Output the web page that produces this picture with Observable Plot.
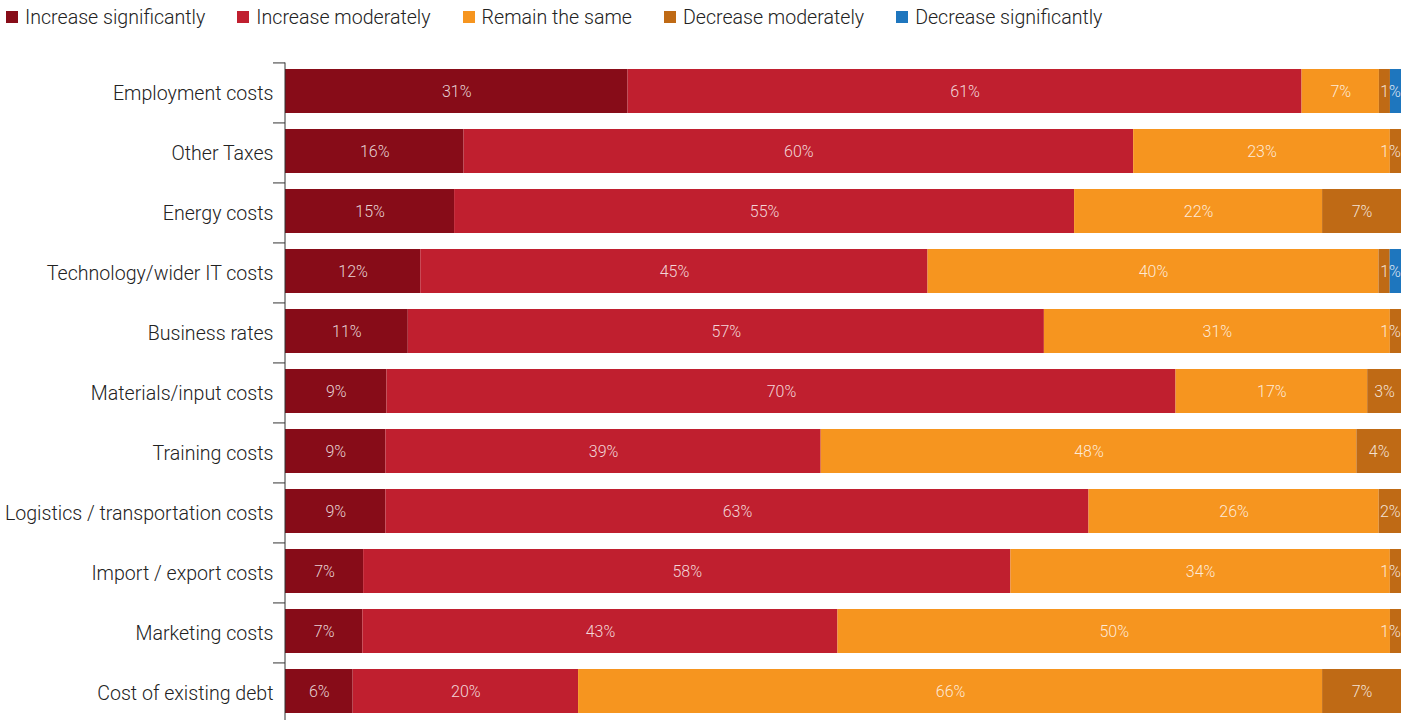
<!DOCTYPE html>
<html><head><meta charset="utf-8">
<script src="https://cdn.jsdelivr.net/npm/d3@7"></script>
<script src="https://cdn.jsdelivr.net/npm/@observablehq/plot@0.6"></script>
<style>
body{margin:0;background:#fff;font-family:Roboto,sans-serif;}
#legend{display:flex;height:34px;align-items:center;padding-left:6px;font-size:19.6px;font-weight:300;color:#222;white-space:nowrap;}
.item{display:flex;align-items:center;margin-right:32px}
.sw{width:12px;height:12px;margin-right:7px}
#chart svg{display:block}
</style></head><body>
<div id="legend"></div><div id="chart"></div>
<script>
const categories = ["Employment costs","Other Taxes","Energy costs","Technology/wider IT costs","Business rates","Materials/input costs","Training costs","Logistics / transportation costs","Import / export costs","Marketing costs","Cost of existing debt"];
const seriesNames = ["Increase significantly","Increase moderately","Remain the same","Decrease moderately","Decrease significantly"];
const colors = ["#870C18","#C01F2F","#F6951F","#BF6A15","#1E76BE"];
const incSig = [31,16,15,12,11,9,9,9,7,7,6];
const incMod = [61,60,55,45,57,70,39,63,58,43,20];
const same   = [7,23,22,40,31,17,48,26,34,50,66];
const decMod = [1,1,7,1,1,3,4,2,1,1,7];
const decSig = [1,0,0,1,0,0,0,0,0,0,0];

const cols = [incSig, incMod, same, decMod, decSig];
const rows = [];
categories.forEach((c, i) => {
  const total = cols.reduce((s, a) => s + a[i], 0);
  let cum = 0;
  cols.forEach((arr, j) => {
    const v = arr[i];
    if (v > 0) {
      rows.push({category: c, series: seriesNames[j], value: v, x1: cum / total, x2: (cum + v) / total,
        showLabel: !(j === 3 && decSig[i] > 0)});
    }
    cum += v;
  });
});

const width = 1413, marginLeft = 285, marginRight = 12;
const plotW = width - marginLeft - marginRight;
const edgePad = 11 / plotW;

// legend
const lg = document.getElementById("legend");
seriesNames.forEach((s, j) => {
  const it = document.createElement("div"); it.className = "item";
  const sw = document.createElement("span"); sw.className = "sw"; sw.style.background = colors[j];
  const t = document.createElement("span"); t.textContent = s;
  it.append(sw, t); lg.append(it);
});

const step = 60.13;
const chart = Plot.plot({
  width, height: 686,
  marginLeft, marginRight, marginTop: 28.5, marginBottom: 0,
  style: {fontFamily: "Roboto, sans-serif", fontSize: "19.6px", fontWeight: 300, color: "#222", background: "#fff"},
  x: {domain: [0, 1], axis: null},
  y: {domain: categories, paddingInner: 0.274, paddingOuter: 0.1, label: null},
  color: {domain: seriesNames, range: colors},
  marks: [
    Plot.barX(rows, {y: "category", x1: "x1", x2: "x2", fill: "series"}),
    Plot.text(rows.filter(d => d.showLabel), {
      y: "category",
      x: d => Math.min((d.x1 + d.x2) / 2, 1 - edgePad),
      text: d => d.value + "%",
      fill: "white", fillOpacity: 0.82, fontSize: 16, fontWeight: 300
    }),
    Plot.ruleX([0], {stroke: "#333", strokeWidth: 1, dx: -0.5}),
    Plot.ruleY(categories, {y: d => d, dy: -step / 2 + 1.5, x1: -12 / plotW, x2: 0, stroke: "#333", strokeWidth: 1}),
    Plot.axisY({tickSize: 0, tickPadding: 12, dy: 2, fontSize: 19.6, fontWeight: 300, fill: "#222"})
  ]
});
document.getElementById("chart").append(chart);
</script>
</body></html>
